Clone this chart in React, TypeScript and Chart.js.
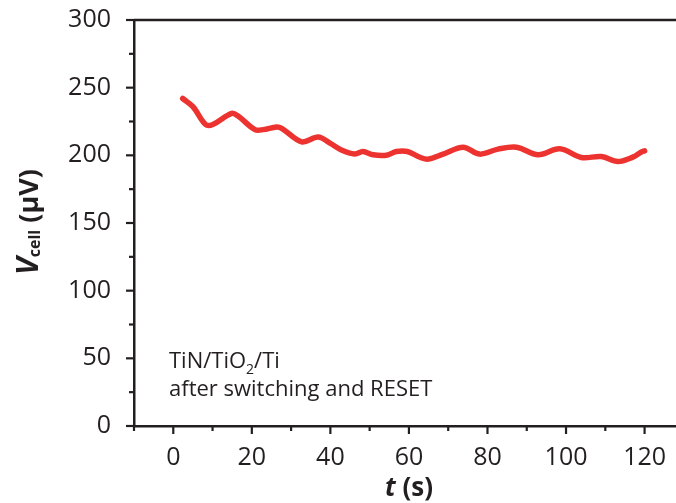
import React, { useEffect, useRef } from "react";
import { Chart, registerables } from "chart.js";

Chart.register(...registerables);

const timeValues = [2.4, 5.0, 8.3, 10.2, 14.9, 16.5, 20.8, 22.9, 26.3, 27.6, 32.7, 36.9, 39.9, 42.8, 46.2, 48.3, 50.9, 54.3, 56.8, 59.6, 62.8, 64.9, 68.7, 73.8, 78.0, 82.7, 87.4, 92.9, 98.4, 103.9, 109.0, 113.2, 117.0, 119.2, 120.0];
const vcellValues = [242, 236, 222.6, 223, 231, 229, 219, 219, 221, 220, 210, 213.5, 209, 204, 201, 202.8, 200.4, 200.1, 202.8, 202.8, 198.6, 197.2, 200.9, 206, 200.9, 204.6, 206, 200.4, 204.8, 198.4, 199.1, 195.4, 198.7, 202.5, 203.3];

const xTickValues = [-10, 0, 10, 20, 30, 40, 50, 60, 70, 80, 90, 100, 110, 120];
const yTickValues = [0, 25, 50, 75, 100, 125, 150, 175, 200, 225, 250, 275, 300];

const annotationLine1 = ["TiN/TiO", "2", "/Ti"];
const annotationLine2 = "after switching and RESET";

const AXIS_COLOR = "#231f20";
const LINE_COLOR = "#ec3330";
const FONT = "'Open Sans', sans-serif";

const decorPlugin = {
  id: "decor",
  afterDraw(chart: any) {
    const { ctx, chartArea, scales } = chart;
    const xs = scales.x;
    const ys = scales.y;
    ctx.save();
    ctx.strokeStyle = AXIS_COLOR;
    ctx.lineWidth = 2.5;
    // top frame line
    ctx.beginPath();
    ctx.moveTo(chartArea.left, chartArea.top);
    ctx.lineTo(chartArea.right, chartArea.top);
    ctx.stroke();
    // ticks
    ctx.lineWidth = 2.2;
    for (const v of xTickValues) {
      const px = xs.getPixelForValue(v);
      const len = v % 20 === 0 ? 8 : 5;
      ctx.beginPath();
      ctx.moveTo(px, chartArea.bottom);
      ctx.lineTo(px, chartArea.bottom + len);
      ctx.stroke();
    }
    for (const v of yTickValues) {
      const py = ys.getPixelForValue(v);
      const len = v % 50 === 0 ? 8 : 5;
      ctx.beginPath();
      ctx.moveTo(chartArea.left, py);
      ctx.lineTo(chartArea.left - len, py);
      ctx.stroke();
    }
    ctx.fillStyle = AXIS_COLOR;
    ctx.textBaseline = "alphabetic";
    ctx.textAlign = "left";
    // annotation
    let ax = 169;
    ctx.font = `22px ${FONT}`;
    ctx.fillText(annotationLine1[0], ax, 368);
    ax += ctx.measureText(annotationLine1[0]).width;
    ctx.font = `14px ${FONT}`;
    ctx.fillText(annotationLine1[1], ax, 374);
    ax += ctx.measureText(annotationLine1[1]).width;
    ctx.font = `22px ${FONT}`;
    ctx.fillText(annotationLine1[2], ax, 368);
    ctx.fillText(annotationLine2, 169, 396);

    // x title: t (s)
    const xParts = [
      { t: "t", f: `italic bold 26px ${FONT}` },
      { t: " (s)", f: `bold 26px ${FONT}` },
    ];
    let total = 0;
    for (const p of xParts) { ctx.font = p.f; total += ctx.measureText(p.t).width; }
    let cx = 409 - total / 2;
    for (const p of xParts) { ctx.font = p.f; ctx.fillText(p.t, cx, 496); cx += ctx.measureText(p.t).width; }

    // y title: V_cell (µV)
    const yParts = [
      { t: "V", f: `italic bold 30px ${FONT}`, dy: 0 },
      { t: "cell", f: `bold 16px ${FONT}`, dy: 2 },
      { t: " (µV)", f: `bold 27px ${FONT}`, dy: 0 },
    ];
    total = 0;
    for (const p of yParts) { ctx.font = p.f; total += ctx.measureText(p.t).width; }
    ctx.translate(30, 222);
    ctx.rotate(-Math.PI / 2);
    let yx = -total / 2;
    for (const p of yParts) { ctx.font = p.f; ctx.fillText(p.t, yx, 8 + p.dy); yx += ctx.measureText(p.t).width; }
    ctx.restore();
  },
};

export default function App() {
  const canvasRef = useRef<HTMLCanvasElement | null>(null);
  useEffect(() => {
    document.body.style.margin = "0";
    const canvas = canvasRef.current;
    if (!canvas) return;
    const chart = new Chart(canvas, {
      type: "line",
      data: {
        datasets: [
          {
            data: timeValues.map((t, i) => ({ x: t, y: vcellValues[i] })),
            borderColor: LINE_COLOR,
            borderWidth: 5.5,
            pointRadius: 0,
            tension: 0.35,
            borderCapStyle: "round",
            borderJoinStyle: "round",
            fill: false,
          },
        ],
      },
      options: {
        responsive: false,
        animation: false,
        layout: { padding: { top: 20, right: 0, left: 0, bottom: 0 } },
        plugins: { legend: { display: false }, tooltip: { enabled: false } },
        scales: {
          x: {
            type: "linear",
            min: -10,
            max: 128,
            grid: { display: false },
            border: { display: true, color: AXIS_COLOR, width: 2.5 },
            afterBuildTicks: (s: any) => { s.ticks = xTickValues.map((v) => ({ value: v })); },
            afterFit: (s: any) => { s.height = 77; s.paddingLeft = 0; s.paddingRight = 0; },
            ticks: {
              autoSkip: false,
              maxRotation: 0,
              padding: 9,
              color: AXIS_COLOR,
              font: { family: FONT, size: 25 },
              callback: (v: any) => (v % 20 === 0 && v >= 0 ? String(v) : ""),
            },
          },
          y: {
            type: "linear",
            min: 0,
            max: 300,
            grid: { display: false },
            border: { display: true, color: AXIS_COLOR, width: 2.5 },
            afterBuildTicks: (s: any) => { s.ticks = yTickValues.map((v) => ({ value: v })); },
            afterFit: (s: any) => { s.width = 134; s.paddingTop = 0; s.paddingBottom = 0; },
            ticks: {
              autoSkip: false,
              padding: 15,
              color: AXIS_COLOR,
              font: { family: FONT, size: 25 },
              callback: (v: any) => (v % 50 === 0 ? String(v) : ""),
            },
          },
        },
      },
      plugins: [decorPlugin],
    } as any);
    return () => chart.destroy();
  }, []);
  return (
    <div style={{ width: 676, height: 503, background: "#fff" }}>
      <canvas ref={canvasRef} width={676} height={503} style={{ display: "block" }} />
    </div>
  );
}
